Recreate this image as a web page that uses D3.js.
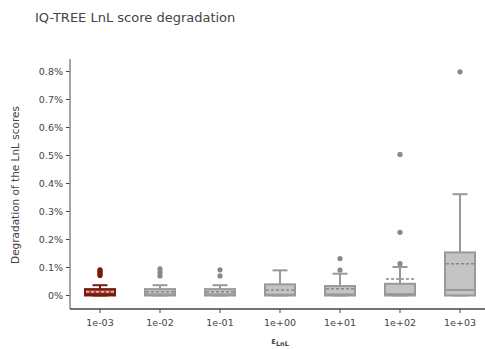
<!DOCTYPE html>
<html><head><meta charset="utf-8">
<script src="https://cdn.jsdelivr.net/npm/d3@7"></script>
<style>body{margin:0;background:#fff;} svg{display:block;font-family:"DejaVu Sans",Verdana,sans-serif;}</style>
</head><body><svg id="c" width="485" height="349"></svg>
<script>
const categories = ["1e-03","1e-02","1e-01","1e+00","1e+01","1e+02","1e+03"];
const lowerWhisker = [0,0,0,0,0,0,0];
const q1 = [0,0,0,0,0,0,0];
const medians = [0.002,0.002,0.002,0.001,0.002,0.003,0.018];
const q3 = [0.021,0.021,0.021,0.038,0.032,0.040,0.152];
const upperWhisker = [0.035,0.035,0.035,0.088,0.076,0.100,0.360];
const means = [0.012,0.012,0.012,0.018,0.022,0.057,0.112];
const outliers = [
  [0.090,0.085,0.080,0.075,0.070],
  [0.093,0.081,0.068],
  [0.090,0.068],
  [],
  [0.089,0.130],
  [0.112,0.224,0.502],
  [0.797]
];
const yTicks = [0,0.1,0.2,0.3,0.4,0.5,0.6,0.7,0.8];

const FONT = '"DejaVu Sans",Verdana,sans-serif';
const svg = d3.select("#c");
const x = d3.scaleBand().domain(categories).range([70,490]);
const y = d3.scaleLinear().domain([0,0.8]).range([295,71]);

svg.append("text").attr("x",35).attr("y",22).attr("font-size",13).attr("fill","#444")
  .text("IQ-TREE LnL score degradation");

// y axis
const yAxis = svg.append("g").attr("transform","translate(70,0)")
  .call(d3.axisLeft(y).tickValues(yTicks).tickSize(4).tickFormat(d=> (d===0?"0":d3.format(".1f")(d))+"%"));
yAxis.select(".domain").remove();
yAxis.selectAll("text").attr("font-size",9.5).attr("fill","#444").attr("font-family",FONT);
yAxis.selectAll("line").attr("stroke","#444");
svg.append("line").attr("x1",70).attr("x2",70).attr("y1",59).attr("y2",309).attr("stroke","#888").attr("stroke-width",1.5);

// x axis
const xAxis = svg.append("g").attr("transform","translate(0,309)")
  .call(d3.axisBottom(x).tickSize(4).tickSizeOuter(0));
xAxis.select(".domain").remove();
xAxis.selectAll("text").attr("font-size",9.5).attr("fill","#444").attr("dy","1.1em").attr("font-family",FONT);
xAxis.selectAll("line").attr("stroke","#444");
svg.append("line").attr("x1",70).attr("x2",485).attr("y1",309).attr("y2",309).attr("stroke","#444").attr("stroke-width",1.5);

// titles
svg.append("text").attr("transform","translate(19,185) rotate(-90)").attr("text-anchor","middle")
  .attr("font-size",10.5).attr("fill","#444").text("Degradation of the LnL scores");
const xt = svg.append("text").attr("x",280).attr("y",344).attr("text-anchor","middle")
  .attr("font-size",8.5).attr("font-weight","bold").attr("fill","#444");
xt.append("tspan").text("ε");
xt.append("tspan").attr("font-size",6.5).attr("dy",1.5).text("LnL");

// boxes
const bw = 30;
categories.forEach((c,i)=>{
  const cx = x(c) + x.bandwidth()/2;
  const first = i===0;
  const stroke = first ? "#7a1a0a" : "#999";
  const fill = first ? "#9c4a3a" : "#c4c4c4";
  const dash = first ? "#e0c0b8" : "#888";
  const g = svg.append("g");
  g.append("line").attr("x1",cx).attr("x2",cx).attr("y1",y(q3[i])).attr("y2",y(upperWhisker[i])).attr("stroke",stroke).attr("stroke-width",2);
  g.append("line").attr("x1",cx-bw/4).attr("x2",cx+bw/4).attr("y1",y(upperWhisker[i])).attr("y2",y(upperWhisker[i])).attr("stroke",stroke).attr("stroke-width",2);
  g.append("line").attr("x1",cx-bw/4).attr("x2",cx+bw/4).attr("y1",y(lowerWhisker[i])+0.5).attr("y2",y(lowerWhisker[i])+0.5).attr("stroke",stroke).attr("stroke-width",2);
  g.append("rect").attr("x",cx-bw/2).attr("width",bw).attr("y",y(q3[i])).attr("height",y(q1[i])-y(q3[i])+0.5)
    .attr("fill",fill).attr("stroke",stroke).attr("stroke-width",2);
  g.append("line").attr("x1",cx-bw/2).attr("x2",cx+bw/2).attr("y1",y(medians[i])).attr("y2",y(medians[i])).attr("stroke",stroke).attr("stroke-width",2);
  g.append("line").attr("x1",cx-bw/2+1).attr("x2",cx+bw/2-1).attr("y1",y(means[i])).attr("y2",y(means[i]))
    .attr("stroke",dash).attr("stroke-width",1.5).attr("stroke-dasharray","3,2");
  outliers[i].forEach(v=>{
    g.append("circle").attr("cx",cx).attr("cy",y(v)).attr("r",2.6).attr("fill",first?"#7a1a0a":"#888");
  });
});
</script></body></html>
